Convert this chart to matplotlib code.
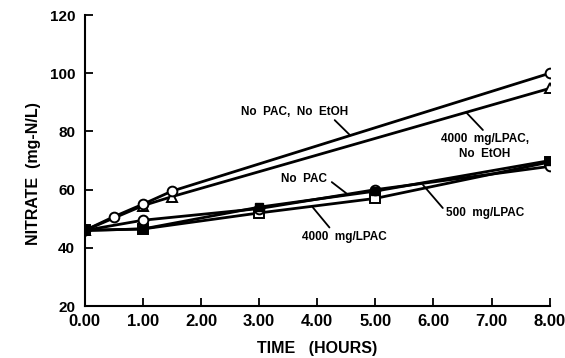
import matplotlib
matplotlib.use("Agg")
import matplotlib.pyplot as plt

plt.rcParams['font.family'] = ['Liberation Sans', 'DejaVu Sans']
plt.rcParams['font.weight'] = 'bold'

# Data (hours, mg-N/L)
t_nopac_noetoh = [0.0, 0.5, 1.0, 1.5, 8.0]
y_nopac_noetoh = [46.0, 50.7, 55.0, 59.5, 100.0]

t_4000_noetoh = [0.0, 1.0, 1.5, 8.0]
y_4000_noetoh = [46.0, 54.5, 57.6, 94.8]

t_lower = [0.0, 1.0, 3.0, 5.0, 8.0]
y_nopac = [46.0, 46.5, 54.0, 59.5, 70.0]
y_500 = [46.0, 49.5, 53.5, 60.0, 68.0]
y_4000 = [46.0, 46.5, 52.0, 57.0, 69.5]

xticks = [0, 1, 2, 3, 4, 5, 6, 7, 8]
xticklabels = ["0.00", "1.00", "2.00", "3.00", "4.00", "5.00", "6.00", "7.00", "8.00"]
yticks = [20, 40, 60, 80, 100, 120]

fig = plt.figure(figsize=(5.65, 3.58), dpi=100)
ax = fig.add_axes([0.150, 0.145, 0.823, 0.813])

lw = 2.0
ms = 7
mk = dict(color='black', lw=lw, markersize=ms, markerfacecolor='white',
          markeredgecolor='black', markeredgewidth=1.4)

ax.plot(t_4000_noetoh, y_4000_noetoh, marker='^', **mk)
ax.plot(t_nopac_noetoh, y_nopac_noetoh, marker='o', **mk)
ax.plot(t_lower, y_4000, marker='s', **mk)
ax.plot(t_lower, y_500, marker='o', **mk)
ax.plot(t_lower, y_nopac, color='black', lw=lw, marker='s', markersize=ms - 1,
        markerfacecolor='black', markeredgecolor='black')

ax.set_xlim(0, 8)
ax.set_ylim(20, 120)
ax.set_xticks(xticks)
ax.set_xticklabels(xticklabels)
ax.set_yticks(yticks)

for s in ['top', 'right']:
    ax.spines[s].set_visible(False)
for s in ['left', 'bottom']:
    ax.spines[s].set_linewidth(1.5)

ax.tick_params(axis='both', direction='in', length=6, width=1.3)
ax.tick_params(axis='x', pad=6, labelsize=12)
ax.tick_params(axis='y', pad=7, labelsize=11)
for lab in ax.get_xticklabels() + ax.get_yticklabels():
    lab.set_fontweight('bold')

ax.set_xlabel("TIME   (HOURS)", fontsize=11.5, fontweight='bold', labelpad=8)
ax.set_ylabel("NITRATE  (mg-N/L)", fontsize=11.5, fontweight='bold', labelpad=12)
ax.yaxis.set_label_coords(-0.095, 0.457)

fs = 8.5
lead = dict(arrowstyle='-', color='black', lw=1.3, shrinkA=0, shrinkB=0)

ax.text(3.61, 86.7, "No  PAC,  No  EtOH", fontsize=fs, fontweight='bold', ha='center', va='center')
ax.annotate('', xy=(4.56, 78.8), xytext=(4.30, 83.9), arrowprops=lead)

ax.text(6.88, 74.8, "4000  mg/LPAC,\nNo  EtOH", fontsize=fs, fontweight='bold',
        ha='center', va='center', linespacing=1.3)
ax.annotate('', xy=(6.57, 86.4), xytext=(6.85, 80.5), arrowprops=lead)

ax.text(3.78, 63.6, "No  PAC", fontsize=fs, fontweight='bold', ha='center', va='center')
ax.annotate('', xy=(4.51, 58.6), xytext=(4.25, 62.6), arrowprops=lead)

ax.text(4.46, 43.7, "4000  mg/LPAC", fontsize=fs, fontweight='bold', ha='center', va='center')
ax.annotate('', xy=(3.92, 54.0), xytext=(4.21, 47.0), arrowprops=lead)

ax.text(6.88, 52.0, "500  mg/LPAC", fontsize=fs, fontweight='bold', ha='center', va='center')
ax.annotate('', xy=(5.82, 61.6), xytext=(6.16, 53.7), arrowprops=lead)

fig.savefig("out.png", dpi=100)
